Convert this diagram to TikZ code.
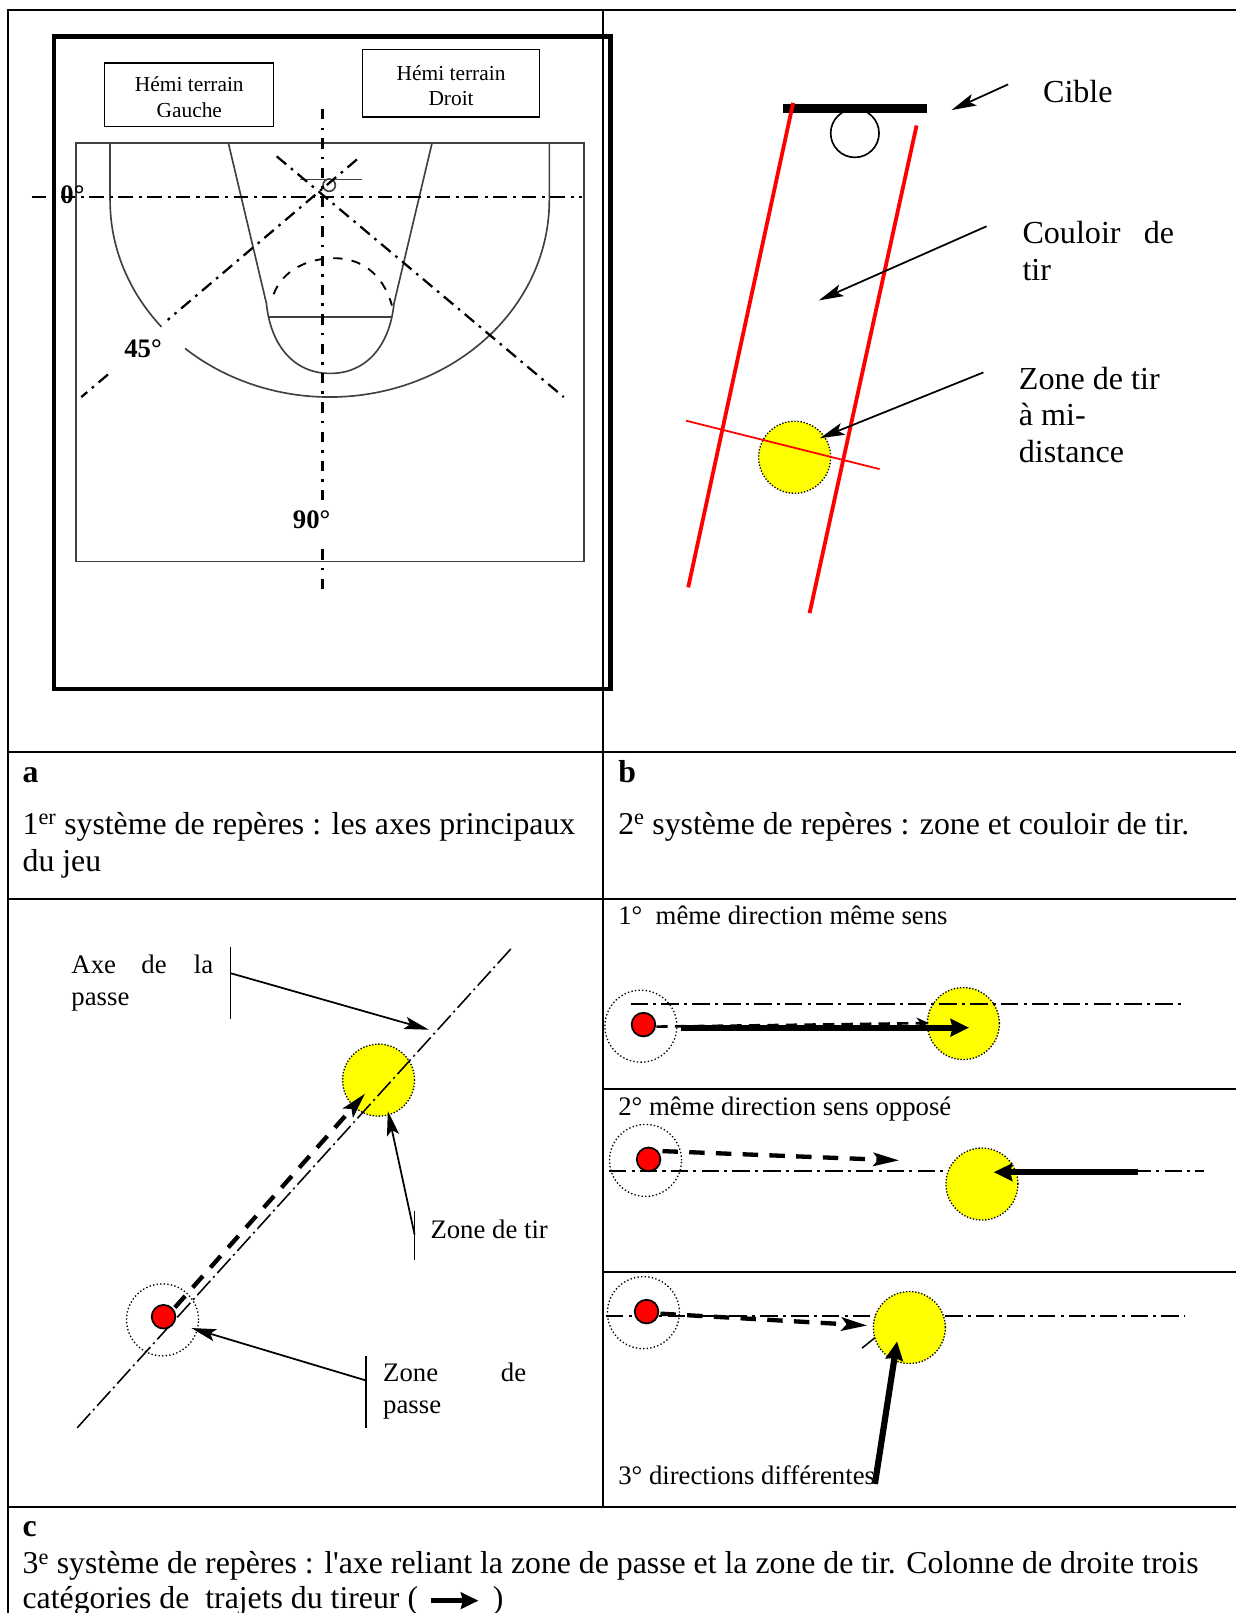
\documentclass[tikz,border=0pt]{standalone}
\usepackage{fontspec}
\setmainfont[Ligatures=TeXOff]{Liberation Serif}
\usetikzlibrary{arrows.meta}
\definecolor{zoney}{RGB}{255,255,0}
\definecolor{zoner}{RGB}{255,0,0}
\tikzset{
 x=1pt,y=-1pt,
 tablerule/.style={line width=2pt,black},
 txt/.style={anchor=base west,inner sep=0pt,outer sep=0pt},
 ctxt/.style={anchor=base,inner sep=0pt,outer sep=0pt},
 captxt/.style={txt,font=\fontsize{30.9}{32}\selectfont},
 capbold/.style={txt,font=\bfseries\fontsize{30.9}{32}\selectfont},
 bigtxt/.style={txt,font=\fontsize{31.2}{34}\selectfont},
 midtxt/.style={txt,font=\fontsize{26}{30}\selectfont},
 boxt/.style={ctxt,font=\fontsize{20.8}{24}\selectfont},
 degtxt/.style={ctxt,font=\bfseries\fontsize{26}{30}\selectfont},
 courtline/.style={line width=1.6pt,black!75},
 courtaxis/.style={line width=2.7pt,dash pattern=on 14pt off 6pt on 3pt off 5pt},
 vertaxis/.style={line width=2.4pt,dash pattern=on 10pt off 8pt on 2.5pt off 8pt},
 diagaxis/.style={line width=2.2pt,dash pattern=on 12pt off 6pt on 2.5pt off 6pt},
 thinaxis/.style={line width=1.5pt,dash pattern=on 19pt off 4pt on 2pt off 4pt},
 rowaxis/.style={line width=1.7pt,dash pattern=on 17pt off 5pt on 3pt off 5pt},
 yzone/.style={circle,draw=black,fill=zoney,minimum size=70pt,inner sep=0pt,line width=1.3pt,dash pattern=on 1.3pt off 1.7pt},
 pzone/.style={circle,draw=black,fill=none,minimum size=70pt,inner sep=0pt,line width=1.3pt,dash pattern=on 1.3pt off 2.2pt},
 playerdot/.style={circle,draw=black,fill=zoner,minimum size=23pt,inner sep=0pt,line width=1.7pt},
 labarrow/.style={line width=1.7pt,-{Stealth[length=24pt,width=12pt,inset=5pt]}},
 labtick/.style={line width=1.8pt},
 thickarrow/.style={line width=6pt,-{Stealth[length=18pt,width=17pt,inset=2pt]}},
 dasharrow/.style={line width=4.2pt,dash pattern=on 15pt off 11pt,-{Stealth[length=25pt,width=13pt,inset=5pt]}},
}
\begin{document}
\begin{tikzpicture}
\useasboundingbox (0,0) rectangle (1201,1568);
\fill[white] (0,0) rectangle (1201,1568);
% ---------- table
\coordinate (tTL) at (8,10); \coordinate (tTR) at (1202,10);
\coordinate (tBL) at (8,1569);
\coordinate (tM1) at (586.3,10); \coordinate (tM2) at (586.3,1465);
\coordinate (r1l) at (8,731); \coordinate (r1r) at (1202,731);
\coordinate (r2l) at (8,874); \coordinate (r2r) at (1202,874);
\coordinate (r3l) at (8,1465); \coordinate (r3r) at (1202,1465);
\coordinate (r4l) at (586.3,1058.5); \coordinate (r4r) at (1202,1058.5);
\coordinate (r5l) at (586.3,1236.3); \coordinate (r5r) at (1202,1236.3);
\draw[tablerule] (tBL)--(tTL)--(tTR);
\draw[tablerule] (tM1)--(tM2);
\draw[tablerule] (r1l)--(r1r);
\draw[tablerule] (r2l)--(r2r);
\draw[tablerule] (r3l)--(r3r);
\draw[tablerule] (r4l)--(r4r);
\draw[tablerule] (r5l)--(r5r);
% ---------- panel a
\draw[line width=4pt] (52.5,35.5) rectangle (593.5,669.5);
\draw[courtline] (74,139) rectangle (568,546);
\draw[line width=1.6pt] (101.5,61) rectangle (266,123);
\draw[line width=1.6pt] (352.5,48) rectangle (524.5,114);
\node[boxt] (hg1) at (184,89) {Hémi terrain};
\begin{scope}
\clip (103,62) rectangle (265,113);
\node[boxt] (hg2) at (184,114) {Gauche};
\end{scope}
\node[boxt] (hd1) at (438.5,78.5) {Hémi terrain};
\node[boxt] (hd2) at (438.5,102.5) {Droit};
% court lines
\draw[courtline] (107,139)--(107,195) plot[domain=180:220,samples=25] ({320.5+213.5*cos(\x)},{195-191*sin(\x)});
\draw[courtline] plot[domain=228.8:360,samples=70] ({320.5+213.5*cos(\x)},{195-191*sin(\x)}) -- (534,139);
\draw[courtline] (222,139)--(259,295) .. controls (263,335) and (285,363) .. (321,363) .. controls (357,363) and (379,335) .. (383,295) -- (420,139);
\draw[courtline] (261,308)--(381,308);
\draw[courtline] (292,174.5)--(352,174.5);
\draw[courtline] (320,180) circle (6);
\draw[line width=1.8pt,dash pattern=on 9pt off 9pt] (266,286) .. controls (275,262) and (300,251) .. (325,251) .. controls (350,251) and (372,265) .. (381,297);
% axes
\coordinate (hA) at (31,191.5); \coordinate (hB) at (566,191.5);
\draw[courtaxis] (hA)--(hB);
\coordinate (vA) at (313.5,106); \coordinate (vB) at (313.5,492); \coordinate (vC) at (313.5,534); \coordinate (vD) at (313.5,574);
\draw[vertaxis] (vA)--(vB);
\draw[vertaxis] (vC)--(vD);
\coordinate (d1a) at (347,155); \coordinate (d1b) at (163,311); \coordinate (d1c) at (105,364); \coordinate (d1d) at (79,386);
\draw[diagaxis] (d1a)--(d1b);
\draw[diagaxis] (d1c)--(d1d);
\coordinate (d2a) at (269,152); \coordinate (d2b) at (548,386);
\draw[diagaxis] (d2a)--(d2b);
\node[degtxt] (a0) at (70.5,198) {0°};
\node[degtxt] (a45) at (139,347.5) {45°};
\node[degtxt] (a90) at (303,513.5) {90°};
% ---------- panel b
\coordinate (cbA) at (761,105.5); \coordinate (cbB) at (901,105.5);
\draw[line width=8pt] (cbA)--(cbB);
\draw[line width=1.6pt] (831,129.5) circle (23.5);
\coordinate (rA) at (771,100); \coordinate (rB) at (669,571);
\coordinate (rC) at (891,122); \coordinate (rD) at (787,596);
\draw[zoner,line width=3.7pt] (rA)--(rB);
\draw[zoner,line width=3.7pt] (rC)--(rD);
\node[yzone] (bz) at (772.5,444.5) {};
\coordinate (rE) at (667,409); \coordinate (rF) at (855,456);
\draw[zoner,line width=1.7pt] (rE)--(rF);
\coordinate (la1) at (980,82); \coordinate (la2) at (925,107);
\coordinate (lb1) at (959,220); \coordinate (lb2) at (796,292);
\coordinate (lc1) at (956,362); \coordinate (lc2) at (797,426);
\draw[labarrow] (la1)--(la2);
\draw[labarrow] (lb1)--(lb2);
\draw[labarrow] (lc1)--(lc2);
\node[bigtxt] (tc) at (1014,100) {Cible};
\node[bigtxt] (tc1) at (994,236.5) {Couloir};
\node[bigtxt] (tc1b) at (1112,236.5) {de};
\node[bigtxt] (tc2) at (994,273) {tir};
\node[bigtxt] (tz1) at (990.5,379) {Zone de tir};
\node[bigtxt] (tz2) at (990.5,414) {à mi-};
\node[bigtxt] (tz3) at (990.5,450) {distance};
% ---------- captions a, b
\node[capbold] (ca) at (22,761) {a};
\node[captxt] (ca1) at (22,811) {1\textsuperscript{er} système de repères : les axes principaux};
\node[captxt] (ca2) at (22,847) {du jeu};
\node[capbold] (cb) at (601,761) {b};
\node[captxt] (cb1) at (601,811) {2\textsuperscript{e} système de repères : zone et couloir de tir.};
% ---------- lower left
\node[yzone] (lz) at (368,1050) {};
\coordinate (lxA) at (75,1388); \coordinate (lxB) at (497,922);
\draw[thinaxis] (lxA)--(lxB);
\node[pzone] (lp) at (158,1283) {};
\node[playerdot] (lr) at (159,1280) {};
\coordinate (ld1) at (170,1271); \coordinate (ld2) at (355,1063);
\draw[dasharrow] (ld1)--(ld2);
\coordinate (t1a) at (224,921); \coordinate (t1b) at (224,991); \coordinate (t1c) at (224,946); \coordinate (t1d) at (417,1001);
\draw[labtick] (t1a)--(t1b);
\draw[labarrow] (t1c)--(t1d);
\coordinate (t2a) at (403,1177); \coordinate (t2b) at (403,1225); \coordinate (t2c) at (403,1200); \coordinate (t2d) at (377,1080);
\draw[labtick] (t2a)--(t2b);
\draw[labarrow] (t2c)--(t2d);
\coordinate (t3a) at (356,1318); \coordinate (t3b) at (356,1388); \coordinate (t3c) at (356,1342); \coordinate (t3d) at (186,1291);
\draw[labtick] (t3a)--(t3b);
\draw[labarrow] (t3c)--(t3d);
\node[midtxt] (ax1) at (69.5,946.5) {Axe};
\node[midtxt] (ax2) at (137.5,946.5) {de};
\node[midtxt] (ax3) at (188.5,946.5) {la};
\node[midtxt] (ax4) at (69.5,977.5) {passe};
\node[midtxt] (zt) at (418.5,1204) {Zone de tir};
\node[midtxt] (zp1) at (372.5,1343) {Zone};
\node[midtxt] (zp2) at (487,1343) {de};
\node[midtxt] (zp3) at (372.5,1374) {passe};
% ---------- right column, row 1
\node[midtxt] (s1) at (601,899) {1°\ \ même direction même sens};
\node[yzone] (y1) at (936.5,995) {};
\coordinate (a1A) at (613,976); \coordinate (a1B) at (1151,976);
\draw[rowaxis] (a1A)--(a1B);
\node[pzone] (p1) at (623,997.5) {};
\node[playerdot] (r1) at (625.5,996) {};
\coordinate (d1s) at (638,998); \coordinate (d1e) at (903,994.5);
\draw[line width=2.6pt,dash pattern=on 11pt off 7pt,-{Stealth[length=12pt,width=11pt]}] (d1s)--(d1e);
\coordinate (k1s) at (662,999); \coordinate (k1e) at (942,999);
\draw[thickarrow] (k1s)--(k1e);
% row 2
\node[midtxt] (s2) at (601,1084) {2° même direction sens opposé};
\coordinate (a2A) at (592,1138); \coordinate (a2B) at (1170,1138);
\draw[rowaxis] (a2A)--(a2B);
\node[pzone] (p2) at (627.5,1128) {};
\node[playerdot] (r2) at (630.5,1127) {};
\node[yzone] (y2) at (954.5,1151) {};
\coordinate (d2s) at (644,1119); \coordinate (d2e) at (874,1128);
\draw[dasharrow] (d2s)--(d2e);
\coordinate (k2s) at (1106,1139.5); \coordinate (k2e) at (966,1139.5);
\draw[thickarrow] (k2s)--(k2e);
% row 3
\coordinate (a3A) at (589,1279); \coordinate (a3B) at (1152,1279);
\draw[rowaxis] (a3A)--(a3B);
\coordinate (tk1) at (838,1310.5); \coordinate (tk2) at (851,1300);
\draw[line width=1.5pt] (tk1)--(tk2);
\node[pzone] (p3) at (625.5,1276) {};
\node[playerdot] (r3) at (628.5,1275) {};
\node[yzone] (y3) at (884,1290.5) {};
\coordinate (d3s) at (642,1277); \coordinate (d3e) at (843,1288.5);
\draw[dasharrow] (d3s)--(d3e);
\node[midtxt] (s3) at (601,1443) {3° directions différentes};
\coordinate (k3s) at (850.5,1442.5); \coordinate (k3e) at (872,1304);
\draw[thickarrow] (k3s)--(k3e);
% ---------- caption c
\node[capbold] (cc) at (22,1494) {c};
\node[captxt] (cc1) at (22,1530) {3\textsuperscript{e} système de repères : l'axe reliant la zone de passe et la zone de tir. Colonne de droite trois};
\node[captxt] (cc2) at (22,1564) {catégories de\ \ trajets du tireur (};
\node[captxt] (cc3) at (479,1564) {)};
\coordinate (ka) at (419,1556); \coordinate (kb) at (465,1556);
\draw[line width=4.5pt,-{Stealth[length=17pt,width=16pt,inset=2pt]}] (ka)--(kb);
\end{tikzpicture}
\end{document}
